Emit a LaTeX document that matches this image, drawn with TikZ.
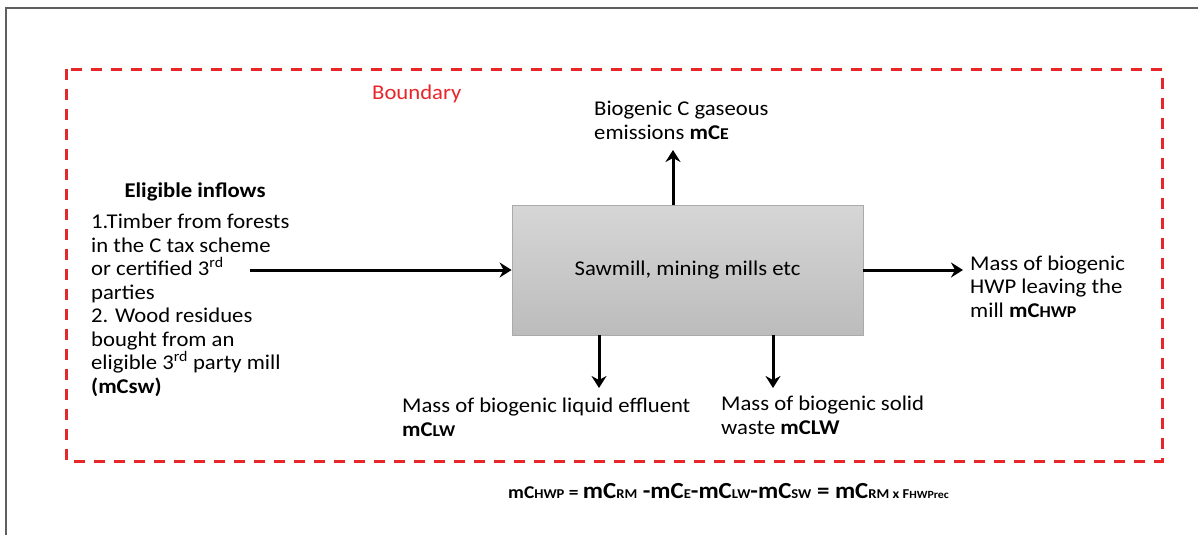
\documentclass[tikz,border=0pt]{standalone}
\usepackage{fontspec}
\setmainfont{Carlito}[FakeStretch=1.08]
\usetikzlibrary{arrows.meta}
\definecolor{bred}{RGB}{232,38,42}
\definecolor{framegray}{RGB}{95,95,95}
\definecolor{boxtop}{RGB}{214,214,214}
\definecolor{boxbot}{RGB}{188,188,188}
\definecolor{boxline}{RGB}{170,170,170}
\newcommand{\fz}[1]{\fontsize{#1}{#1}\selectfont}
\newcommand{\smc}[1]{{\fontsize{16.5}{16.5}\selectfont #1}}
\begin{document}
\begin{tikzpicture}[x=1pt,y=-1pt,
  lbl/.style={align=left, inner sep=0pt, anchor=base west, font=\fontsize{21}{23.5}\selectfont},
  flow/.style={line width=3pt, -{Stealth[length=12pt,width=15pt,inset=4pt]}},
  millbox/.style={draw=boxline, line width=0.8pt, top color=boxtop, bottom color=boxbot,
    minimum width=351pt, minimum height=130pt, inner sep=0pt, font=\fontsize{21}{23.5}\selectfont}]
\useasboundingbox (0,0) rectangle (1198,535);
\fill[white] (0,0) rectangle (1198,535);
\draw[framegray, line width=1.5pt] (6,535) -- (6,8) -- (1198,8);
\draw[bred, line width=3pt, dash pattern=on 11pt off 9pt] (66,69) rectangle (1162,461);
\node[lbl, text=bred] (bnd) at (372,99) {Boundary};

\node[millbox] (mill) at (687.5,270) {Sawmill, mining mills etc};

% multi-line nodes: anchor base = baseline of the last line
\node[lbl, anchor=base] (elig) at (195,197) {\textbf{Eligible inflows}};
\node[lbl] (inl) at (91,393) {1.Timber from forests\\in the C tax scheme\\or certified 3\textsuperscript{rd}\\parties\\2. Wood residues\\bought from an\\eligible 3\textsuperscript{rd} party mill\\\textbf{(mCsw)}};
\node[lbl] (em) at (594,139) {Biogenic C gaseous\\emissions \textbf{mC\smc{E}}};
\node[lbl] (out) at (970,317) {Mass of biogenic\\HWP leaving the\\mill \textbf{mC\smc{HWP}}};
\node[lbl] (liq) at (402,436) {Mass of biogenic liquid effluent\\\textbf{mC\smc{LW}}};
\node[lbl] (sol) at (721,434) {Mass of biogenic solid\\waste \textbf{mCLW}};

\node[inner sep=0pt, anchor=base west] (eq) at (508,498) {\bfseries\fz{18}mC\fz{13.5}HWP\fz{18} = \fz{23}mC\fz{13.5}RM\fz{23} -mC\fz{13.5}E\fz{23}-mC\fz{13.5}LW\fz{23}-mC\fz{13.5}SW\fz{23} = mC\fz{13.5}RM x F\fz{11}HWPrec};

\coordinate (inStart) at (250,270);
\coordinate (eTip) at (673,150);
\coordinate (oTip) at (963,270);
\coordinate (lTip) at (599,388);
\coordinate (sTip) at (773,388);
\draw[flow] (inStart) -- (mill.west);
\draw[flow] (mill.east) -- (oTip);
\draw[flow] (eTip |- mill.north) -- (eTip);
\draw[flow] (lTip |- mill.south) -- (lTip);
\draw[flow] (sTip |- mill.south) -- (sTip);
\end{tikzpicture}
\end{document}
